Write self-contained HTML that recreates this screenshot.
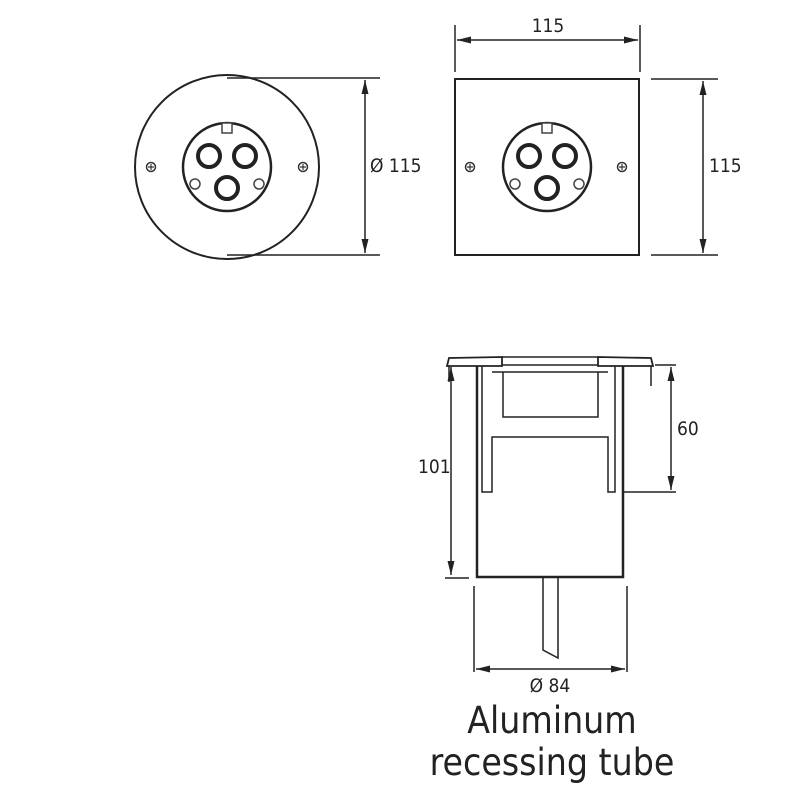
<!DOCTYPE html>
<html><head><style>
html,body{margin:0;padding:0;background:#fff;}
svg{display:block;}
text{font-family:"DejaVu Sans Condensed","Liberation Sans",sans-serif;fill:#222;}
</style></head><body>
<svg width="800" height="800" viewBox="0 0 800 800" xmlns="http://www.w3.org/2000/svg">
<defs>
<marker id="a" viewBox="0 0 14 7" refX="14" refY="3.5" markerWidth="14" markerHeight="7" orient="auto-start-reverse" markerUnits="userSpaceOnUse"><path d="M0,0 L14,3.5 L0,7 Z" fill="#222"/></marker>
<g id="head">
<circle cx="0" cy="0" r="44" fill="none" stroke="#222" stroke-width="2.5"/>
<circle cx="-18" cy="-11" r="11" fill="none" stroke="#222" stroke-width="4"/>
<circle cx="18" cy="-11" r="11" fill="none" stroke="#222" stroke-width="4"/>
<circle cx="0" cy="21" r="11" fill="none" stroke="#222" stroke-width="4"/>
<rect x="-5" y="-44" width="10" height="10" fill="#fff" stroke="#444" stroke-width="1.5"/>
<circle cx="-32" cy="17" r="5" fill="#fff" stroke="#444" stroke-width="1.5"/>
<circle cx="32" cy="17" r="5" fill="#fff" stroke="#444" stroke-width="1.5"/>
</g>
<g id="screw"><circle r="4.5" fill="none" stroke="#333" stroke-width="1.5"/><path d="M-3,0H3M0,-3V3" stroke="#333" stroke-width="1.2"/></g>
</defs>
<g stroke="#222" stroke-width="1.5" fill="none">
<circle cx="227" cy="167" r="92" stroke-width="2"/>
<line x1="227" y1="78" x2="380" y2="78"/>
<line x1="227" y1="255" x2="380" y2="255"/>
<line x1="365" y1="80" x2="365" y2="253" marker-start="url(#a)" marker-end="url(#a)"/>
<rect x="455" y="79" width="184" height="176" stroke-width="2"/>
<line x1="455" y1="25" x2="455" y2="72"/>
<line x1="640" y1="25" x2="640" y2="72"/>
<line x1="457" y1="40" x2="638" y2="40" marker-start="url(#a)" marker-end="url(#a)"/>
<line x1="651" y1="79" x2="718" y2="79"/>
<line x1="651" y1="255" x2="718" y2="255"/>
<line x1="703" y1="81" x2="703" y2="253" marker-start="url(#a)" marker-end="url(#a)"/>
<path d="M447,366 L449,358 L502,357 L502,366 Z" stroke-width="1.8"/>
<path d="M598,357 L651,358 L653,366 L598,366 Z" stroke-width="1.8"/>
<line x1="502" y1="357" x2="598" y2="357"/>
<line x1="502" y1="365" x2="598" y2="365"/>
<path d="M449,366 V382 M651,366 V386"/>
<path d="M477,366 V577 H623 V366" stroke-width="2.5"/>
<path d="M482,366 V492 H492 V437 H608 V492 H615 V366"/>
<path d="M503,372 V417 H598 V372"/>
<path d="M492,372 H608"/>
<path d="M543,578 V650 L558,658 V578"/>
<line x1="451" y1="367" x2="451" y2="575" marker-start="url(#a)" marker-end="url(#a)"/>
<line x1="445" y1="578" x2="469" y2="578"/>
<line x1="655" y1="365" x2="676" y2="365"/>
<line x1="622" y1="492" x2="676" y2="492"/>
<line x1="671" y1="367" x2="671" y2="490" marker-start="url(#a)" marker-end="url(#a)"/>
<line x1="474" y1="586" x2="474" y2="672"/>
<line x1="627" y1="586" x2="627" y2="672"/>
<line x1="476" y1="669" x2="625" y2="669" marker-start="url(#a)" marker-end="url(#a)"/>
</g>
<use href="#head" x="227" y="167"/>
<use href="#head" x="547" y="167"/>
<use href="#screw" x="151" y="167"/>
<use href="#screw" x="303" y="167"/>
<use href="#screw" x="470" y="167"/>
<use href="#screw" x="622" y="167"/>
<g font-size="19">
<text x="370" y="172">Ø 115</text>
<text x="548" y="32" text-anchor="middle">115</text>
<text x="709" y="172">115</text>
<text x="418" y="473">101</text>
<text x="677" y="435">60</text>
<text x="550" y="692" text-anchor="middle">Ø 84</text>
</g>
<g font-size="37" text-anchor="middle">
<text x="552" y="733">Aluminum</text>
<text x="552" y="775">recessing tube</text>
</g>
</svg>
</body></html>
